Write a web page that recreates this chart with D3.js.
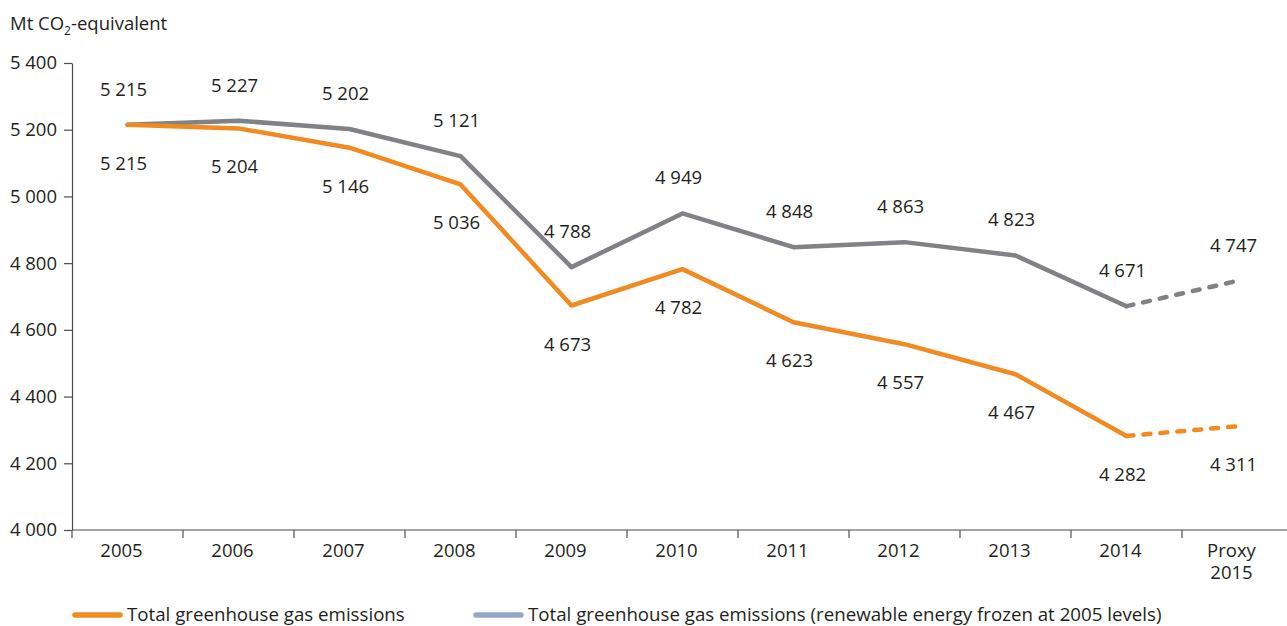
<!DOCTYPE html>
<html><head><meta charset="utf-8">
<script src="https://cdn.jsdelivr.net/npm/d3@7"></script>
<style>
body{margin:0;background:#fff;}
text{font-family:"Open Sans",sans-serif;fill:#231f20;}
</style></head>
<body><svg id="c" width="1287" height="626"></svg>
<script>
const categories = ["2005","2006","2007","2008","2009","2010","2011","2012","2013","2014","Proxy 2015"];
const totalEmissions = [5215,5204,5146,5036,4673,4782,4623,4557,4467,4282,4311];
const frozenEmissions = [5215,5227,5202,5121,4788,4949,4848,4863,4823,4671,4747];
const yTicks = [4000,4200,4400,4600,4800,5000,5200,5400];
const seriesNames = ["Total greenhouse gas emissions","Total greenhouse gas emissions (renewable energy frozen at 2005 levels)"];

const svg = d3.select("#c");
const x = d3.scaleBand().domain(categories).range([72,1293]);
const y = d3.scaleLinear().domain([4000,5400]).range([530,63]);
const fmt = v => d3.format(",")(v).replace(/,/g," ");
const cx = c => x(c) + x.bandwidth()/2;
const FS = "18.5px";

// y axis
const ya = svg.append("g").attr("transform","translate(72,0)")
  .call(d3.axisLeft(y).tickValues(yTicks).tickSize(8).tickPadding(7).tickFormat(fmt).tickSizeOuter(0));
ya.select(".domain").attr("stroke","#4d4d4d").attr("stroke-width",1.2);
ya.selectAll(".tick line").attr("stroke","#4d4d4d").attr("stroke-width",1.2);
ya.selectAll(".tick text").style("font-size",FS).attr("fill","#231f20").style("font-family","'Open Sans',sans-serif");
svg.append("line").attr("x1",72).attr("x2",72).attr("y1",530).attr("y2",538).attr("stroke","#4d4d4d").attr("stroke-width",1.2);

// x axis
const xa = svg.append("g").attr("transform","translate(0,530)");
xa.append("line").attr("x1",72).attr("x2",1287).attr("y1",0).attr("y2",0).attr("stroke","#4d4d4d").attr("stroke-width",1.2);
xa.selectAll("line.t").data(categories.slice(1)).join("line").attr("class","t")
  .attr("x1",d=>x(d)).attr("x2",d=>x(d)).attr("y1",0).attr("y2",8).attr("stroke","#4d4d4d").attr("stroke-width",1.2);
const xLines = categories.flatMap(c => c.split(" ").map((p,i)=>({c, p, i})));
xa.selectAll("text.xl").data(xLines).join("text").attr("class","xl")
  .attr("x",d=>cx(d.c)-6).attr("y",d=>27 + d.i*22).attr("text-anchor","middle").style("font-size",FS)
  .text(d=>d.p);

// title
const tt = svg.append("text").attr("x",10).attr("y",30).style("font-size",FS);
tt.append("tspan").text("Mt CO");
tt.append("tspan").attr("dy",5).style("font-size","12px").text("2");
tt.append("tspan").attr("dy",-5).text("-equivalent");

const line = d3.line().x((d,i)=>cx(categories[i])).y(d=>y(d));
function drawSeries(vals,color){
  const solid = vals.slice(0,10);
  svg.append("path").attr("d",line(solid)).attr("fill","none").attr("stroke",color)
    .attr("stroke-width",4.5).attr("stroke-linejoin","round").attr("stroke-linecap","round");
  const dashedPts = [[cx(categories[9]),y(vals[9])],[cx(categories[10]),y(vals[10])]];
  svg.append("path").attr("d",d3.line()(dashedPts)).attr("fill","none").attr("stroke",color)
    .attr("stroke-width",4.5).attr("stroke-linecap","round").attr("stroke-dasharray","7,10");
}
drawSeries(frozenEmissions,"#818285");
drawSeries(totalEmissions,"#f18a21");

// labels
svg.selectAll("text.lg").data(frozenEmissions).join("text").attr("class","lg")
  .attr("x",(d,i)=>cx(categories[i])-4).attr("y",d=>y(d)-29).attr("text-anchor","middle")
  .style("font-size","18.5px").text(fmt);
svg.selectAll("text.lo").data(totalEmissions).join("text").attr("class","lo")
  .attr("x",(d,i)=>cx(categories[i])-4).attr("y",d=>y(d)+45).attr("text-anchor","middle")
  .style("font-size","18.5px").text(fmt);

// legend
const legend = [[72,"#f18a21",seriesNames[0]],[473,"#95a8c8",seriesNames[1]]];
legend.forEach(([lx,col,name])=>{
  svg.append("line").attr("x1",lx+3).attr("x2",lx+48).attr("y1",615).attr("y2",615)
    .attr("stroke",col).attr("stroke-width",5.5).attr("stroke-linecap","round");
  svg.append("text").attr("x",lx+55).attr("y",621).style("font-size","18.7px").text(name);
});
</script></body></html>
